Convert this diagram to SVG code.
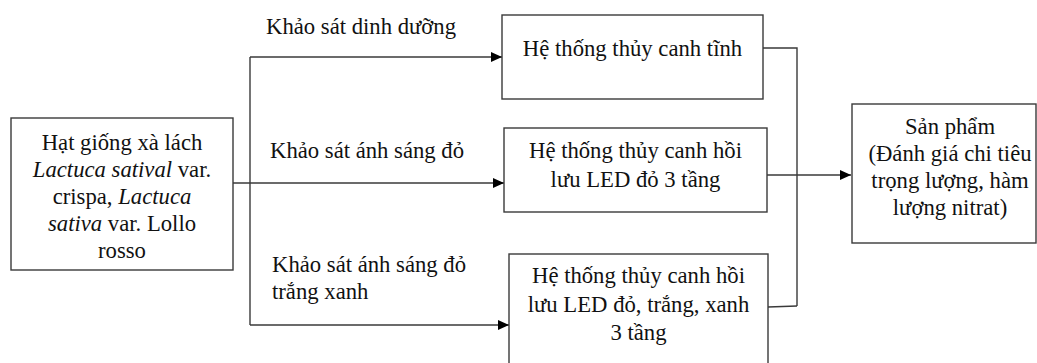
<svg xmlns="http://www.w3.org/2000/svg" width="1037" height="363" viewBox="0 0 1037 363">
<style>
.box{fill:#fff;stroke:#3a3a3a;stroke-width:1.4}
.ln{fill:none;stroke:#3a3a3a;stroke-width:1.4}
text{font-family:"Liberation Serif","Times New Roman",serif;font-size:22.7px;fill:#111}
.c{text-anchor:middle}
.i{font-style:italic}
</style>
<defs>
<marker id="ah" markerWidth="12" markerHeight="10" refX="11" refY="5" orient="auto" markerUnits="userSpaceOnUse">
<path d="M0,0 L11,5 L0,10 Z" fill="#000"/>
</marker>
</defs>
<rect width="1037" height="363" fill="#fff"/>
<g id="connectors">
<path class="ln" d="M233,183 L504,183" marker-end="url(#ah)"/>
<path class="ln" d="M250,57 L250,325"/>
<path class="ln" d="M250,57 L502,57" marker-end="url(#ah)"/>
<path class="ln" d="M250,325 L509,325" marker-end="url(#ah)"/>
<path class="ln" d="M763,48 L797,48 L797,306"/>
<path class="ln" d="M768,307 L797,306"/>
<path class="ln" d="M767,175 L851,175" marker-end="url(#ah)"/>
</g>
<g id="labels">
<text x="266" y="34">Khảo sát dinh dưỡng</text>
<text x="270" y="158">Khảo sát ánh sáng đỏ</text>
<text x="272" y="272">Khảo sát ánh sáng đỏ</text>
<text x="272" y="299">trắng xanh</text>
</g>
<g id="seed">
<rect class="box" x="11" y="118" width="222" height="152"/>
<text class="c" x="122" y="150">Hạt giống xà lách</text>
<text class="c" x="122" y="177"><tspan class="i">Lactuca satival</tspan> var.</text>
<text class="c" x="122" y="204">crispa, <tspan class="i">Lactuca</tspan></text>
<text class="c" x="122" y="231"><tspan class="i">sativa</tspan> var. Lollo</text>
<text class="c" x="122" y="258">rosso</text>
</g>
<g id="static">
<rect class="box" x="502" y="15" width="261" height="84"/>
<text class="c" x="632.5" y="56">Hệ thống thủy canh tĩnh</text>
</g>
<g id="red">
<rect class="box" x="504" y="128" width="263" height="84"/>
<text class="c" x="635.5" y="158">Hệ thống thủy canh hồi</text>
<text class="c" x="635.5" y="187">lưu LED đỏ 3 tầng</text>
</g>
<g id="rgb">
<rect class="box" x="509" y="254" width="259" height="130"/>
<text class="c" x="638.5" y="283">Hệ thống thủy canh hồi</text>
<text class="c" x="638.5" y="312">lưu LED đỏ, trắng, xanh</text>
<text class="c" x="638.5" y="340">3 tầng</text>
</g>
<g id="product">
<rect class="box" x="852" y="104" width="184" height="139"/>
<text class="c" x="950" y="134">Sản phẩm</text>
<text class="c" x="950" y="161">(Đánh giá chi tiêu</text>
<text class="c" x="950" y="188">trọng lượng, hàm</text>
<text class="c" x="950" y="215">lượng nitrat)</text>
</g>
</svg>
